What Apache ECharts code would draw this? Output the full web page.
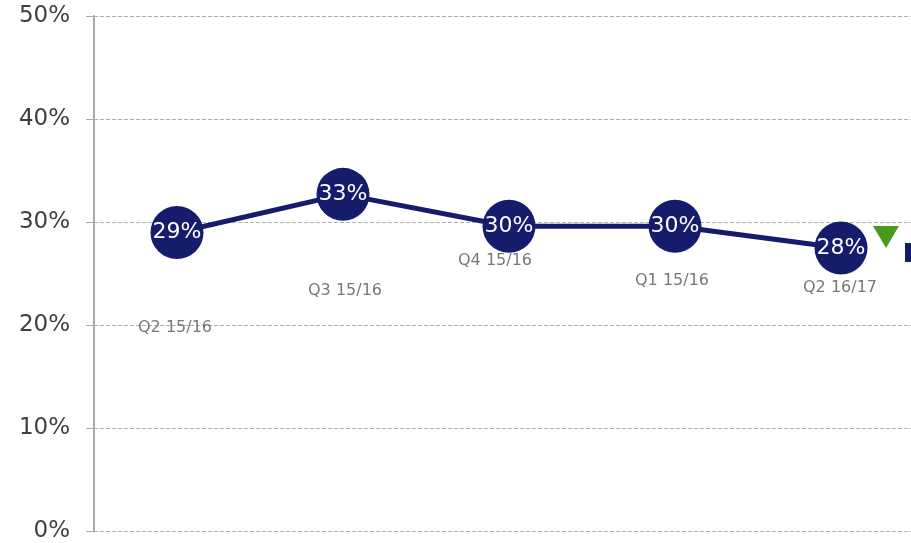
<!doctype html>
<html lang="en">
  <head>
    <meta charset="UTF-8" />
    <title>Quarterly rate</title>
    <style>
      html, body { margin: 0; padding: 0; background: #fff; overflow: hidden; }
      #chart1 { width: 924px; height: 543px; }
    </style>
  </head>
  <body>
    <div id="chart1"></div>
    <script src="https://cdn.jsdelivr.net/npm/echarts@6/dist/echarts.min.js"></script>
    <script>
      // values
      const quarters = ["Q2 15/16", "Q3 15/16", "Q4 15/16", "Q1 15/16", "Q2 16/17"];
      const rates = [29.0, 32.7, 29.6, 29.6, 27.5];
      const shownLabels = ["29%", "33%", "30%", "30%", "28%"];
      const yTicks = [0, 10, 20, 30, 40, 50];

      // where each quarter name sits relative to its point (px)
      const nameOffsets = [[-2, 95], [2, 96], [-14, 35], [-3, 55], [-1, 40]];

      const navy = "#161c6c";

      const myChart = echarts.init(document.querySelector("#chart1"));

      const option = {
        animation: false,
        grid: { left: 94, top: 16, bottom: 11, right: 0, containLabel: false },
        xAxis: {
          type: "category",
          data: quarters,
          boundaryGap: true,
          axisLine: { show: false },
          axisTick: { show: false },
          axisLabel: { show: false },
        },
        yAxis: {
          type: "value",
          min: yTicks[0],
          max: yTicks[yTicks.length - 1],
          interval: 10,
          axisLine: { show: true, lineStyle: { color: "#aaaaaa", width: 2 } },
          axisTick: { show: true, length: 8, lineStyle: { color: "#aaaaaa" } },
          axisLabel: {
            margin: 24,
            color: "#3f3f3f",
            fontSize: 23,
            fontFamily: "DejaVu Sans",
            formatter: (v) => v + "%",
          },
          splitLine: { lineStyle: { color: "#b0b0b0", type: [4, 2] } },
        },
        series: [
          {
            name: "Rate",
            type: "line",
            data: rates,
            symbol: "circle",
            symbolSize: 53,
            lineStyle: { color: navy, width: 5 },
            itemStyle: { color: navy },
            label: {
              show: true,
              position: "inside",
              color: "#fff",
              fontSize: 22,
              fontFamily: "DejaVu Sans",
              formatter: (p) => shownLabels[p.dataIndex],
            },
            z: 3,
          },
          {
            name: "Quarter",
            type: "scatter",
            silent: true,
            symbolSize: 1,
            itemStyle: { color: "rgba(0,0,0,0)" },
            labelLayout: (p) => ({
              dx: nameOffsets[p.dataIndex][0],
              dy: nameOffsets[p.dataIndex][1],
              hideOverlap: false,
            }),
            data: rates,
            label: {
              show: true,
              position: "inside",
              color: "#555",
              fontSize: 16,
              fontFamily: "DejaVu Sans",
              formatter: (p) => quarters[p.dataIndex],
            },
            z: 2,
          },
          {
            name: "Trend",
            type: "scatter",
            silent: true,
            symbol: "triangle",
            symbolRotate: 180,
            symbolSize: [26, 22],
            symbolOffset: [45, -11],
            itemStyle: { color: "#4a9a1e", opacity: 1 },
            data: rates.map((v, i) => (i === rates.length - 1 ? v : "-")),
            z: 4,
          },
        ],
        graphic: [
          {
            type: "rect",
            left: 905,
            top: 243,
            shape: { width: 10, height: 19 },
            style: { fill: navy },
          },
        ],
      };

      myChart.setOption(option);
    </script>
  </body>
</html>
